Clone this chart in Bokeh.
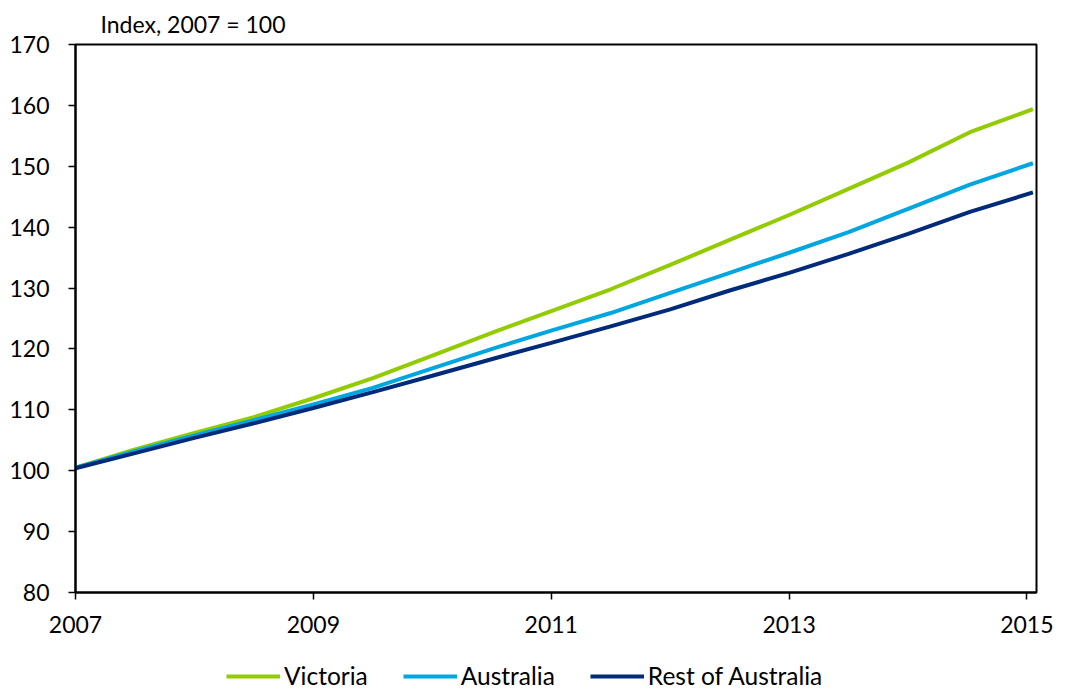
from bokeh.plotting import figure
from bokeh.models import Legend, LegendItem, FixedTicker, Range1d
from bokeh.layouts import column
from bokeh.embed import file_html
from bokeh.resources import INLINE

years = [2007.0, 2007.5, 2008.0, 2008.5, 2009.0, 2009.5, 2010.0, 2010.55, 2011.0,
         2011.5, 2012.0, 2012.5, 2013.0, 2013.5, 2014.0, 2014.52, 2015.05]
victoria = [100.5, 103.5, 106.2, 108.8, 111.9, 115.2, 118.9, 123.0, 126.2,
            129.8, 133.8, 137.9, 142.0, 146.3, 150.6, 155.6, 159.4]
australia = [100.5, 103.2, 105.8, 108.3, 110.9, 113.6, 116.8, 120.3, 123.0,
             125.9, 129.2, 132.5, 135.8, 139.2, 143.0, 147.0, 150.5]
rest_of_australia = [100.4, 102.9, 105.4, 107.8, 110.3, 112.9, 115.6, 118.6, 121.0,
                     123.7, 126.5, 129.6, 132.5, 135.6, 138.9, 142.5, 145.7]
series_names = ["Victoria", "Australia", "Rest of Australia"]
x_ticks = [2007, 2009, 2011, 2013, 2015]
y_ticks = [80, 90, 100, 110, 120, 130, 140, 150, 160, 170]

FONT = "Lato"
COLORS = ["#92CC00", "#00A6E0", "#002A7A"]
SERIES = [victoria, australia, rest_of_australia]

p = figure(width=1053, height=645, output_backend="svg", toolbar_location=None,
           x_range=Range1d(2007, 2015.08), y_range=Range1d(80, 170),
           min_border_left=75, min_border_right=17, min_border_top=44, min_border_bottom=53)

p.title.text = "Index, 2007 = 100"
p.title.text_font = FONT
p.title.text_font_size = "23px"
p.title.text_font_style = "normal"
p.title.text_color = "black"
p.title.offset = 25
p.title.standoff = 14

p.grid.visible = False
p.outline_line_color = "black"
p.outline_line_width = 2
p.outline_line_alpha = 1

for ax in (p.xaxis[0], p.yaxis[0]):
    ax.axis_line_color = "black"
    ax.axis_line_width = 2
    ax.major_tick_line_color = "black"
    ax.major_tick_line_width = 1.5
    ax.major_tick_out = 7
    ax.major_tick_in = 0
    ax.minor_tick_line_color = None
    ax.major_label_text_font = FONT
    ax.major_label_text_font_size = "23px"
    ax.major_label_text_color = "black"

p.xaxis.ticker = FixedTicker(ticks=x_ticks)
p.yaxis.ticker = FixedTicker(ticks=y_ticks)
p.xaxis.major_label_standoff = 16
p.yaxis.major_label_standoff = 19

for ys, c in zip(SERIES, COLORS):
    p.line(years, ys, line_color=c, line_width=4)

# legend strip below the chart
lg = figure(width=1053, height=46, output_backend="svg", toolbar_location=None,
            x_range=Range1d(0, 1), y_range=Range1d(0, 1),
            min_border_left=0, min_border_right=0, min_border_top=0, min_border_bottom=0)
lg.axis.visible = False
lg.grid.visible = False
lg.outline_line_color = None
items = []
for name, ys, c in zip(series_names, SERIES, COLORS):
    r = lg.line(years, ys, line_color=c, line_width=4)
    items.append(LegendItem(label=name, renderers=[r]))

legend = Legend(items=items, orientation="horizontal", location=(151, 1),
                label_text_font=FONT, label_text_font_size="24.5px",
                label_text_color="black", label_height=24,
                glyph_width=54, glyph_height=24, label_standoff=4, spacing=35,
                border_line_color=None, background_fill_alpha=0,
                padding=0, margin=0)
lg.add_layout(legend, "center")

layout = column(p, lg, spacing=0)
open("out.html", "w").write(file_html(layout, INLINE))
